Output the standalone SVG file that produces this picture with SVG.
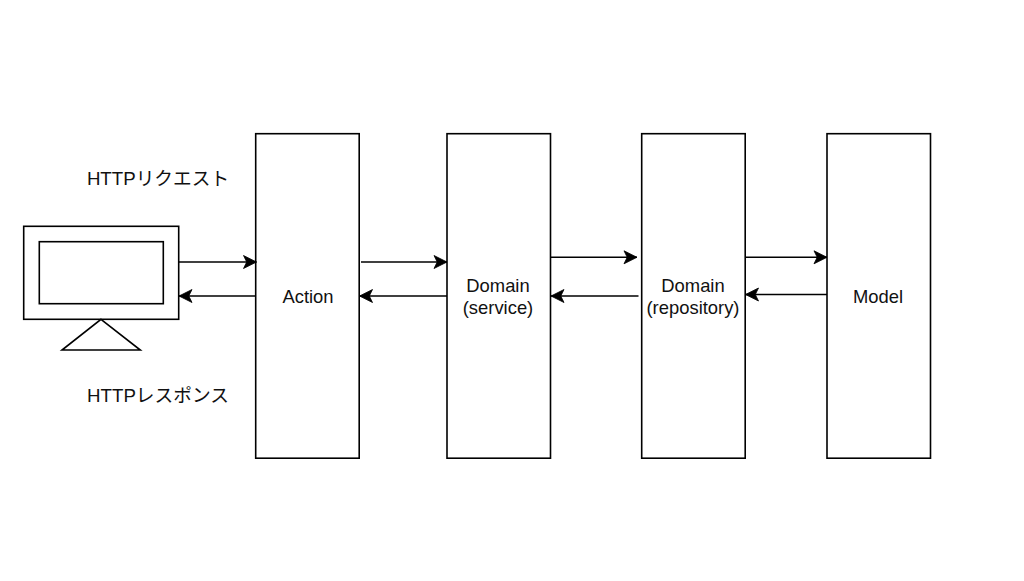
<svg xmlns="http://www.w3.org/2000/svg" width="1024" height="581" viewBox="0 0 1024 581">
<style>
.s{fill:#fff;stroke:#000;stroke-width:1.6}
.c{fill:none;stroke:#000;stroke-width:1.6;marker-end:url(#a)}
text{font-family:"Liberation Sans","Noto Sans CJK JP",sans-serif;font-size:18.4px;fill:#111;text-anchor:middle}
.j{font-size:18.7px}
</style>
<defs><marker id="a" markerUnits="userSpaceOnUse" markerWidth="16" markerHeight="16" refX="14" refY="8" orient="auto"><path d="M1 1.500L14 8L1 14.500L4.200 8Z" fill="#000" stroke="#000" stroke-width="0.8"/></marker></defs>
<rect width="1024" height="581" fill="#fff"/>
<g id="client"><rect class="s" x="23.700" y="226.300" width="155" height="93"/><rect class="s" x="39.300" y="241.700" width="124" height="62"/><path class="s" d="M101 319.300L140.300 350H62Z"/></g>
<g id="action"><rect class="s" x="255.700" y="133.700" width="103.500" height="324.500"/><text x="308" y="302.500">Action</text></g>
<g id="service"><rect class="s" x="447" y="133.700" width="103.500" height="324.500"/><text x="498" y="291.500">Domain</text><text x="498" y="313.500">(service)</text></g>
<g id="repository"><rect class="s" x="641.700" y="133.700" width="103.500" height="324.500"/><text x="693" y="291.500">Domain</text><text x="693" y="313.500">(repository)</text></g>
<g id="model"><rect class="s" x="827" y="133.700" width="103.500" height="324.500"/><text x="878" y="302.500">Model</text></g>
<g id="labels"><text class="j" x="158" y="184.500">HTTPリクエスト</text><text class="j" x="158" y="401.500">HTTPレスポンス</text></g>
<g id="connectors">
<path class="c" d="M178.700 262H256.500"/><path class="c" d="M255.700 296H179"/>
<path class="c" d="M361 262H447"/><path class="c" d="M447 296H359.500"/>
<path class="c" d="M550.500 257.300H637"/><path class="c" d="M638.500 296H551"/>
<path class="c" d="M745.200 257.300H827"/><path class="c" d="M827 294.500H745.500"/>
</g>
</svg>
